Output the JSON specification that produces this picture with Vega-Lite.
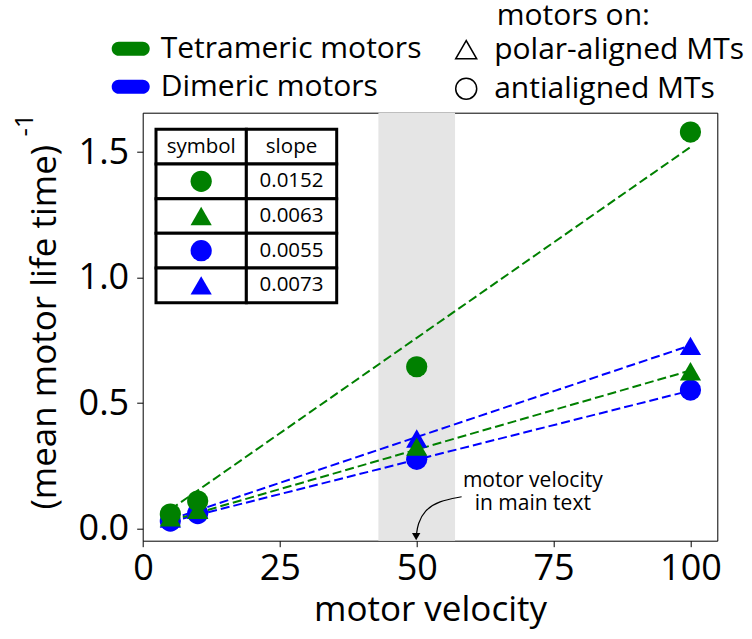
{
  "$schema": "https://vega.github.io/schema/vega-lite/v6.json",
  "width": 574.6,
  "height": 428,
  "autosize": {"type": "none"},
  "padding": {"left": 142.7, "top": 112.7, "right": 34.7, "bottom": 98.3},
  "background": "white",
  "config": {
    "font": "Open Sans",
    "view": {"stroke": "black", "strokeWidth": 1},
    "axis": {
      "domain": false,
      "grid": false,
      "tickColor": "black",
      "tickSize": 6,
      "tickWidth": 1,
      "labelColor": "black",
      "labelFontSize": 36,
      "titleColor": "black",
      "titleFontSize": 35,
      "titleFontWeight": "normal",
      "labelFlush": false,
      "labelOverlap": false
    },
    "legend": {
      "labelColor": "black",
      "labelFontSize": 30,
      "labelLimit": 400,
      "titleColor": "black",
      "titleFontSize": 30,
      "titleFontWeight": "normal",
      "titleLimit": 400,
      "padding": 0,
      "offset": 0
    }
  },
  "datasets": {
    "points": [
      {"velocity": 5, "rate": 0.030, "motor": "Dimeric motors", "mt": "antialigned MTs"},
      {"velocity": 10, "rate": 0.060, "motor": "Dimeric motors", "mt": "antialigned MTs"},
      {"velocity": 50, "rate": 0.276, "motor": "Dimeric motors", "mt": "antialigned MTs"},
      {"velocity": 100, "rate": 0.552, "motor": "Dimeric motors", "mt": "antialigned MTs"},
      {"velocity": 5, "rate": 0.040, "motor": "Dimeric motors", "mt": "polar-aligned MTs"},
      {"velocity": 10, "rate": 0.075, "motor": "Dimeric motors", "mt": "polar-aligned MTs"},
      {"velocity": 50, "rate": 0.359, "motor": "Dimeric motors", "mt": "polar-aligned MTs"},
      {"velocity": 100, "rate": 0.728, "motor": "Dimeric motors", "mt": "polar-aligned MTs"},
      {"velocity": 5, "rate": 0.058, "motor": "Tetrameric motors", "mt": "antialigned MTs"},
      {"velocity": 10, "rate": 0.110, "motor": "Tetrameric motors", "mt": "antialigned MTs"},
      {"velocity": 50, "rate": 0.645, "motor": "Tetrameric motors", "mt": "antialigned MTs"},
      {"velocity": 100, "rate": 1.580, "motor": "Tetrameric motors", "mt": "antialigned MTs"},
      {"velocity": 5, "rate": 0.045, "motor": "Tetrameric motors", "mt": "polar-aligned MTs"},
      {"velocity": 10, "rate": 0.075, "motor": "Tetrameric motors", "mt": "polar-aligned MTs"},
      {"velocity": 50, "rate": 0.327, "motor": "Tetrameric motors", "mt": "polar-aligned MTs"},
      {"velocity": 100, "rate": 0.627, "motor": "Tetrameric motors", "mt": "polar-aligned MTs"}
    ],
    "fits": [
      {"velocity": 5, "rate": 0.0275, "motor": "Dimeric motors", "mt": "antialigned MTs"},
      {"velocity": 100, "rate": 0.55, "motor": "Dimeric motors", "mt": "antialigned MTs"},
      {"velocity": 5, "rate": 0.0365, "motor": "Dimeric motors", "mt": "polar-aligned MTs"},
      {"velocity": 100, "rate": 0.73, "motor": "Dimeric motors", "mt": "polar-aligned MTs"},
      {"velocity": 5, "rate": 0.076, "motor": "Tetrameric motors", "mt": "antialigned MTs"},
      {"velocity": 100, "rate": 1.52, "motor": "Tetrameric motors", "mt": "antialigned MTs"},
      {"velocity": 5, "rate": 0.0315, "motor": "Tetrameric motors", "mt": "polar-aligned MTs"},
      {"velocity": 100, "rate": 0.63, "motor": "Tetrameric motors", "mt": "polar-aligned MTs"}
    ],
    "arrow": [
      {"step": 0, "velocity": 58.2, "rate": 0.127},
      {"step": 1, "velocity": 54.0, "rate": 0.110},
      {"step": 2, "velocity": 51.4, "rate": 0.072},
      {"step": 3, "velocity": 50.2, "rate": 0.020},
      {"step": 4, "velocity": 49.9, "rate": -0.030}
    ],
    "table": [
      {"tier": "head", "col": "symbol", "txt": "symbol"},
      {"tier": "head", "col": "slope", "txt": "slope"},
      {"tier": "r1", "col": "symbol", "motor": "Tetrameric motors", "mt": "antialigned MTs"},
      {"tier": "r1", "col": "slope", "txt": "0.0152"},
      {"tier": "r2", "col": "symbol", "motor": "Tetrameric motors", "mt": "polar-aligned MTs"},
      {"tier": "r2", "col": "slope", "txt": "0.0063"},
      {"tier": "r3", "col": "symbol", "motor": "Dimeric motors", "mt": "antialigned MTs"},
      {"tier": "r3", "col": "slope", "txt": "0.0055"},
      {"tier": "r4", "col": "symbol", "motor": "Dimeric motors", "mt": "polar-aligned MTs"},
      {"tier": "r4", "col": "slope", "txt": "0.0073"}
    ]
  },
  "layer": [
    {
      "layer": [
        {
          "data": {"values": [{"lo": 43, "hi": 57}]},
          "mark": {"type": "rect", "color": "#e5e5e5"},
          "encoding": {
            "x": {"field": "lo", "type": "quantitative", "scale": {"domain": [-0.05, 104.9], "nice": false, "zero": false}},
            "x2": {"field": "hi"}
          }
        },
        {
          "data": {"name": "fits"},
          "mark": {"type": "line", "strokeDash": [9, 4], "strokeWidth": 2},
          "encoding": {
            "x": {"field": "velocity", "type": "quantitative", "scale": {"domain": [-0.05, 104.9], "nice": false, "zero": false}},
            "y": {"field": "rate", "type": "quantitative", "scale": {"domain": [-0.048, 1.657], "nice": false, "zero": false}},
            "stroke": {"field": "motor", "type": "nominal", "scale": {"domain": ["Dimeric motors", "Tetrameric motors"], "range": ["#0000ff", "#008000"]}, "legend": null},
            "detail": {"field": "mt"}
          }
        },
        {
          "data": {"name": "points"},
          "mark": {"type": "point", "filled": true, "opacity": 1, "size": 450},
          "encoding": {
            "x": {
              "field": "velocity", "type": "quantitative",
              "scale": {"domain": [-0.05, 104.9], "nice": false, "zero": false},
              "axis": {"values": [0, 25, 50, 75, 100], "title": "motor velocity", "labelPadding": 5, "titlePadding": 6}
            },
            "y": {
              "field": "rate", "type": "quantitative",
              "scale": {"domain": [-0.048, 1.657], "nice": false, "zero": false},
              "axis": {"values": [0, 0.5, 1, 1.5], "format": ".1f", "title": "(mean motor life time)", "labelPadding": 8, "titlePadding": 16}
            },
            "color": {
              "field": "motor", "type": "nominal",
              "scale": {"domain": ["Tetrameric motors", "Dimeric motors"], "range": ["#008000", "#0000ff"]},
              "legend": {
                "orient": "none", "legendX": -31, "legendY": -83, "title": null,
                "symbolType": "M-0.63,-0.37L0.63,-0.37A0.37,0.37 0 0 1 0.63,0.37L-0.63,0.37A0.37,0.37 0 0 1 -0.63,-0.37Z",
                "symbolSize": 1444, "symbolStrokeWidth": 0, "symbolOpacity": 1,
                "labelOffset": 11, "rowPadding": 4
              }
            },
            "shape": {
              "field": "mt", "type": "nominal",
              "scale": {"domain": ["polar-aligned MTs", "antialigned MTs"], "range": ["triangle-up", "circle"]},
              "legend": {
                "orient": "none", "legendX": 354, "legendY": -112,
                "title": "motors on:", "titlePadding": 4,
                "symbolSize": 441, "symbolFillColor": "white", "symbolStrokeColor": "black", "symbolStrokeWidth": 1.5,
                "symbolOffset": -45.5, "labelOffset": 13, "rowPadding": 9
              }
            }
          }
        },
        {
          "data": {"name": "arrow"},
          "mark": {"type": "line", "color": "black", "strokeWidth": 1.2, "interpolate": "basis"},
          "encoding": {
            "x": {"field": "velocity", "type": "quantitative", "scale": {"domain": [-0.05, 104.9], "nice": false, "zero": false}},
            "y": {"field": "rate", "type": "quantitative", "scale": {"domain": [-0.048, 1.657], "nice": false, "zero": false}},
            "order": {"field": "step"}
          }
        },
        {
          "data": {"values": [{"velocity": 49.9, "rate": -0.032}]},
          "mark": {"type": "point", "shape": "triangle-down", "filled": true, "color": "black", "opacity": 1, "size": 70},
          "encoding": {
            "x": {"field": "velocity", "type": "quantitative", "scale": {"domain": [-0.05, 104.9], "nice": false, "zero": false}},
            "y": {"field": "rate", "type": "quantitative", "scale": {"domain": [-0.048, 1.657], "nice": false, "zero": false}}
          }
        },
        {
          "data": {"values": [{"velocity": 71.2, "rate": 0.19, "note": "motor velocity\nin main text"}]},
          "mark": {"type": "text", "fontSize": 21, "lineBreak": "\n", "lineHeight": 22.7, "align": "center", "baseline": "middle", "color": "black"},
          "encoding": {
            "x": {"field": "velocity", "type": "quantitative", "scale": {"domain": [-0.05, 104.9], "nice": false, "zero": false}},
            "y": {"field": "rate", "type": "quantitative", "scale": {"domain": [-0.048, 1.657], "nice": false, "zero": false}},
            "text": {"field": "note"}
          }
        },
        {
          "data": {"values": [{"velocity": -21.5, "rate": 1.608, "note": "-1"}]},
          "mark": {"type": "text", "fontSize": 26, "angle": 270, "align": "center", "baseline": "middle", "color": "black"},
          "encoding": {
            "x": {"field": "velocity", "type": "quantitative", "scale": {"domain": [-0.05, 104.9], "nice": false, "zero": false}},
            "y": {"field": "rate", "type": "quantitative", "scale": {"domain": [-0.048, 1.657], "nice": false, "zero": false}},
            "text": {"field": "note"}
          }
        }
      ]
    },
    {
      "data": {"name": "table"},
      "encoding": {
        "x": {"field": "col", "type": "nominal", "axis": null, "scale": {"type": "band", "domain": ["symbol", "slope"], "range": [13.3, 194], "paddingInner": 0, "paddingOuter": 0}},
        "y": {"field": "tier", "type": "nominal", "axis": null, "scale": {"type": "band", "domain": ["head", "r1", "r2", "r3", "r4"], "range": [16.6, 190], "paddingInner": 0, "paddingOuter": 0}}
      },
      "layer": [
        {
          "mark": {"type": "rect", "fill": "white", "stroke": "black", "strokeWidth": 3}
        },
        {
          "transform": [{"filter": "datum.txt != null"}],
          "mark": {"type": "text", "fontSize": 20.5, "align": "center", "baseline": "middle", "color": "black"},
          "encoding": {"text": {"field": "txt"}}
        },
        {
          "transform": [{"filter": "datum.motor != null"}],
          "mark": {"type": "point", "filled": true, "opacity": 1, "size": 450},
          "encoding": {
            "color": {"field": "motor", "type": "nominal", "legend": null},
            "shape": {"field": "mt", "type": "nominal", "legend": null}
          }
        }
      ]
    }
  ],
  "resolve": {"scale": {"x": "independent", "y": "independent"}}
}
